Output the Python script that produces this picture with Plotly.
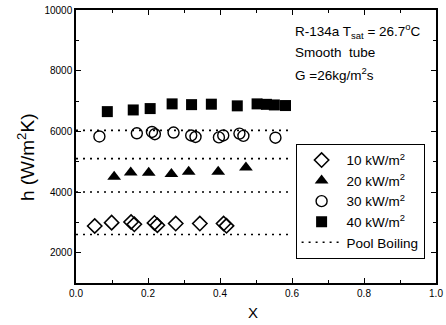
import plotly.graph_objects as go

# ---- data ----
x_10 = [0.052, 0.099, 0.153, 0.162, 0.218, 0.226, 0.277, 0.344, 0.410, 0.418]
h_10 = [2880, 2990, 3010, 2935, 2980, 2905, 2960, 2960, 2960, 2885]

x_20 = [0.106, 0.152, 0.202, 0.265, 0.313, 0.395, 0.472]
h_20 = [4500, 4645, 4635, 4590, 4665, 4665, 4810]

x_30 = [0.065, 0.169, 0.211, 0.219, 0.271, 0.320, 0.332, 0.397, 0.409, 0.454, 0.465, 0.554]
h_30 = [5830, 5935, 5980, 5905, 5960, 5865, 5815, 5800, 5865, 5925, 5850, 5790]

x_40 = [0.087, 0.159, 0.206, 0.267, 0.321, 0.376, 0.448, 0.503, 0.529, 0.551, 0.582]
h_40 = [6650, 6705, 6750, 6905, 6880, 6895, 6840, 6905, 6890, 6870, 6850]

pool_levels = [2600, 4000, 5100, 6030]
pool_x_span = [0.0, 0.6]

series_names = ["10 kW/m<sup>2</sup>", "20 kW/m<sup>2</sup>",
                "30 kW/m<sup>2</sup>", "40 kW/m<sup>2</sup>", "Pool Boiling"]
x_ticks = [0.0, 0.2, 0.4, 0.6, 0.8, 1.0]
x_ticktext = ["0.0", "0.2", "0.4", "0.6", "0.8", "1.0"]
y_ticks = [2000, 4000, 6000, 8000, 10000]
y_ticktext = ["2000", "4000", "6000", "8000", "10000"]

FONT = "Liberation Sans, Arial, Helvetica, sans-serif"

fig = go.Figure()

fig.add_trace(go.Scatter(x=x_10, y=h_10, mode="markers", name=series_names[0],
                         marker=dict(symbol="diamond-open", size=11, color="black",
                                     line=dict(width=1.6, color="black"))))
fig.add_trace(go.Scatter(x=x_20, y=h_20, mode="markers", name=series_names[1],
                         marker=dict(symbol="triangle-up", size=12, color="black")))
fig.add_trace(go.Scatter(x=x_30, y=h_30, mode="markers", name=series_names[2],
                         marker=dict(symbol="circle-open", size=11, color="black",
                                     line=dict(width=1.4, color="black"))))
fig.add_trace(go.Scatter(x=x_40, y=h_40, mode="markers", name=series_names[3],
                         marker=dict(symbol="square", size=11, color="black")))

px, py = [], []
for lvl in pool_levels:
    px += [pool_x_span[0], pool_x_span[1], None]
    py += [lvl, lvl, None]
fig.add_trace(go.Scatter(x=px, y=py, mode="lines", name=series_names[4],
                         line=dict(color="black", width=1.6, dash="2px,5px")))

axis_common = dict(
    showline=True, linecolor="black", linewidth=1.5, mirror="ticks",
    ticks="inside", ticklen=5, tickwidth=1.2, tickcolor="black",
    showgrid=False, zeroline=False, ticklabeloverflow="allow",
    tickfont=dict(family=FONT, size=10, color="black"),
)

fig.update_xaxes(range=[0, 1], tickvals=x_ticks, ticktext=x_ticktext,
                 minor=dict(dtick=0.1, ticks="inside", ticklen=3, tickcolor="black", tickwidth=1),
                 **axis_common)
fig.update_yaxes(range=[1000, 10000], tickvals=y_ticks, ticktext=y_ticktext,
                 minor=dict(dtick=1000, ticks="inside", ticklen=3, tickcolor="black", tickwidth=1),
                 **axis_common)

# axis titles
fig.add_annotation(x=-0.139, y=0.461, xref="paper", yref="paper", text="h (W/m<sup>2</sup>K)",
                   textangle=-90, showarrow=False, xanchor="center", yanchor="middle",
                   font=dict(family=FONT, size=19, color="black"))
fig.add_annotation(x=0.492, y=-0.108, xref="paper", yref="paper", text="X",
                   showarrow=False, xanchor="center", yanchor="middle",
                   font=dict(family=FONT, size=15, color="black"))

ann_font = dict(family=FONT, size=13.5, color="black")
for txt, yy in [("R-134a T<sub>sat</sub> = 26.7<sup>o</sup>C", 0.922),
                ("Smooth  tube", 0.846),
                ("G =26kg/m<sup>2</sup>s", 0.766)]:
    fig.add_annotation(x=0.602, y=yy, xref="paper", yref="paper", text=txt,
                       showarrow=False, xanchor="left", yanchor="middle", font=ann_font)

fig.update_layout(
    width=446, height=325,
    margin=dict(l=76, r=3, t=10, b=42),
    paper_bgcolor="white", plot_bgcolor="white",
    font=dict(family=FONT, color="black"),
    legend=dict(x=0.61, y=0.51, xanchor="left", yanchor="top",
                bgcolor="white", bordercolor="black", borderwidth=1,
                font=dict(family=FONT, size=13.5, color="black"),
                itemwidth=40, tracegroupgap=0),
    showlegend=True,
)

fig.write_html("out.html", config={"displayModeBar": False},
               post_script="document.body.style.margin='0';")
